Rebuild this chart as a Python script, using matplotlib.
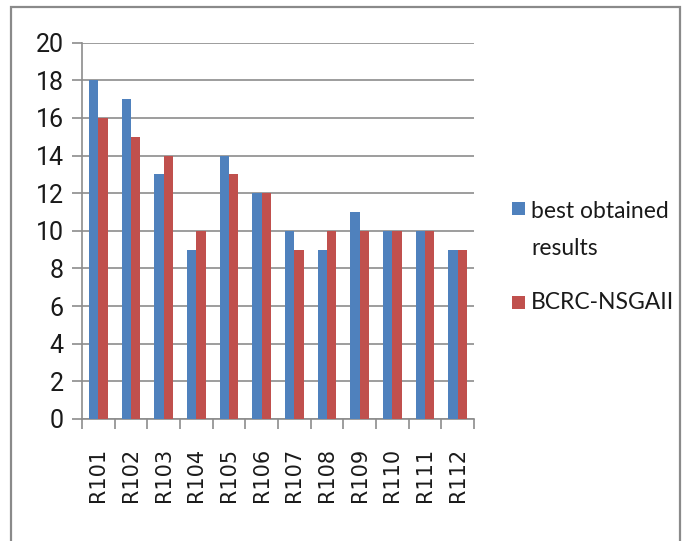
import matplotlib
matplotlib.use("Agg")
import matplotlib.pyplot as plt
import numpy as np
from matplotlib.patches import Rectangle

categories = ["R101", "R102", "R103", "R104", "R105", "R106",
              "R107", "R108", "R109", "R110", "R111", "R112"]
best_obtained = [18, 17, 13, 9, 14, 12, 10, 9, 11, 10, 10, 9]
bcrc_nsgaii = [16, 15, 14, 10, 13, 12, 9, 10, 10, 10, 10, 9]
series_labels = ["best obtained\nresults", "BCRC-NSGAII"]
y_ticks = list(range(0, 21, 2))

BLUE = "#4F81BD"
RED = "#C0504D"
GRID = "#8C8C8C"

W, H = 687, 541
fig = plt.figure(figsize=(W / 100, H / 100), dpi=100)
fig.patch.set_facecolor("white")

# outer chart frame
fig.add_artist(Rectangle((11 / W, -0.05), (680 - 11) / W, 1.05 - 7 / H,
                         transform=fig.transFigure, fill=False,
                         edgecolor="#8A8A8A", linewidth=1.6))

ax = fig.add_axes([82 / W, (H - 419) / H, (474 - 82) / W, (419 - 42.7) / H])

x = np.arange(len(categories))
bw = 1 / 3.5
ax.bar(x - bw / 2, best_obtained, width=bw, color=BLUE, zorder=3)
ax.bar(x + bw / 2, bcrc_nsgaii, width=bw, color=RED, zorder=3)

ax.set_xlim(-0.5, len(categories) - 0.5)
ax.set_ylim(0, 20)
ax.set_yticks(y_ticks)
ax.set_yticklabels([str(v) for v in y_ticks])
ax.yaxis.grid(True, color=GRID, linewidth=1.2, zorder=0)
ax.set_axisbelow(True)

for s in ("top", "right"):
    ax.spines[s].set_visible(False)
for s in ("left", "bottom"):
    ax.spines[s].set_color(GRID)
    ax.spines[s].set_linewidth(1.2)

ax.set_xticks(x)
ax.set_xticklabels(categories, rotation=90, fontsize=15,
                   family=["DejaVu Sans"], color="#1a1a1a")
ax.set_xticks(np.arange(-0.5, len(categories)), minor=True)
ax.tick_params(axis="x", which="major", length=0, pad=21)
ax.tick_params(axis="x", which="minor", length=7, color=GRID, width=1.2,
               direction="out")
ax.tick_params(axis="y", length=7, color=GRID, width=1.2, pad=6,
               labelsize=18, labelcolor="#1a1a1a")
for lab in ax.get_yticklabels():
    lab.set_family(["Roboto", "DejaVu Sans"])

# legend drawn in figure pixel coordinates
def px(xp, yp):
    return xp / W, 1 - yp / H

sq = 13
for (cx, cy), col in zip([(512, 202), (512, 296)], [BLUE, RED]):
    fx, fy = px(cx, cy + sq)
    fig.add_artist(Rectangle((fx, fy), sq / W, sq / H, transform=fig.transFigure,
                             facecolor=col, edgecolor="none"))

leg_font = dict(fontsize=16.5, family=["Lato", "DejaVu Sans"], color="#1a1a1a",
                va="baseline", ha="left")
lines = series_labels[0].split("\n")
fig.text(*px(531, 218), lines[0], **leg_font)
fig.text(*px(531, 255), lines[1], **leg_font)
fig.text(*px(531, 309), series_labels[1], **leg_font)

fig.savefig("out.png", dpi=100, facecolor="white")
